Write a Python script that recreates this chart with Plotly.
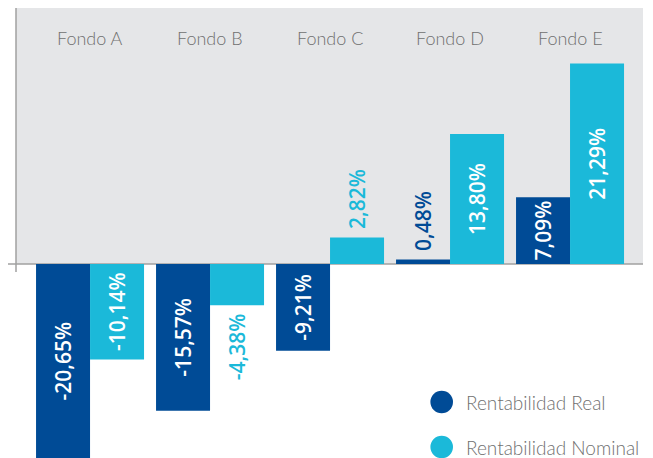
import plotly.graph_objects as go

categories = ["Fondo A", "Fondo B", "Fondo C", "Fondo D", "Fondo E"]
real_values = [-20.65, -15.57, -9.21, 0.48, 7.09]
nominal_values = [-10.14, -4.38, 2.82, 13.80, 21.29]
real_textpos = ["inside", "inside", "inside", "outside", "inside"]
nominal_textpos = ["inside", "outside", "outside", "inside", "inside"]
series_names = ["Rentabilidad Real", "Rentabilidad Nominal"]

DARK = "#004b96"
LIGHT = "#1bb9d9"
GRAY_BG = "#e5e6e8"
TXT = "#707070"

# The page body has an 8px margin; figure sits at (8, 8) in the window.
OFF = 8
W, H = 645, 460
ML, MR, MT, MB = 8, 10, 0, 0
PW, PH = W - ML - MR, H - MT - MB
YMIN, YMAX = -21.66, 27.18


def px(x):
    """page pixel x -> paper x"""
    return (x - OFF - ML) / PW


def py(y):
    """page pixel y -> paper y"""
    return (OFF + MT + PH - y) / PH


NBSP = "\u00a0"


def fmt(v, pos):
    s = f"{v:.2f}%".replace(".", ",")
    if pos == "outside":
        s = NBSP + s if v >= 0 else s + NBSP
    return s


LABEL_FONT = dict(family="Open Sans, Lato, sans-serif", size=21, weight=600)

fig = go.Figure()
for vals, tpos, name, col in [
    (real_values, real_textpos, series_names[0], DARK),
    (nominal_values, nominal_textpos, series_names[1], LIGHT),
]:
    fig.add_trace(go.Bar(
        x=categories, y=vals, name=name,
        marker=dict(color=col, line=dict(width=0)),
        text=[fmt(v, p) for v, p in zip(vals, tpos)], textposition=tpos,
        textangle=-90, insidetextanchor="middle", constraintext="none",
        insidetextfont=dict(color="white", **LABEL_FONT),
        outsidetextfont=dict(color=col, **LABEL_FONT),
        showlegend=False, cliponaxis=False,
    ))

shapes = [
    dict(type="rect", xref="paper", yref="y", x0=0, x1=1, y0=0, y1=YMAX,
         fillcolor=GRAY_BG, line=dict(width=0), layer="below"),
    dict(type="line", xref="paper", yref="y", x0=px(8), x1=1, y0=0, y1=0,
         line=dict(color="#a0a0a0", width=1.5), layer="below"),
    dict(type="line", xref="paper", yref="paper", x0=0, x1=0, y0=py(272), y1=1,
         line=dict(color="#a0a0a0", width=1.5), layer="below"),
]

annotations = []
for c in categories:
    annotations.append(dict(x=c, y=py(38), xref="x", yref="paper", text=c,
                            showarrow=False, xanchor="center", yanchor="middle",
                            font=dict(family="Lato, Open Sans, sans-serif", size=18,
                                      color=TXT, weight=300)))

legend_items = [(series_names[0], DARK, 402), (series_names[1], LIGHT, 447)]
for name, col, cy in legend_items:
    cx, r = 441.7, 11.3
    shapes.append(dict(type="circle", xref="paper", yref="paper",
                       x0=px(cx - r), x1=px(cx + r), y0=py(cy + r), y1=py(cy - r),
                       fillcolor=col, line=dict(width=0)))
    annotations.append(dict(x=px(464), y=py(cy), xref="paper", yref="paper",
                            text=name, showarrow=False, xanchor="left",
                            yanchor="middle",
                            font=dict(family="Lato, Open Sans, sans-serif", size=19,
                                      color=TXT, weight=300)))

fig.update_layout(
    width=W, height=H,
    margin=dict(l=ML, r=MR, t=MT, b=MB, pad=0),
    paper_bgcolor="white", plot_bgcolor="white",
    barmode="group", bargap=0.1, bargroupgap=0,
    xaxis=dict(visible=False, range=[-0.617, 4.608], fixedrange=True),
    yaxis=dict(visible=False, range=[YMIN, YMAX], fixedrange=True),
    shapes=shapes, annotations=annotations,
    uniformtext=dict(minsize=21, mode="show"),
)

fig.write_html("out.html")
